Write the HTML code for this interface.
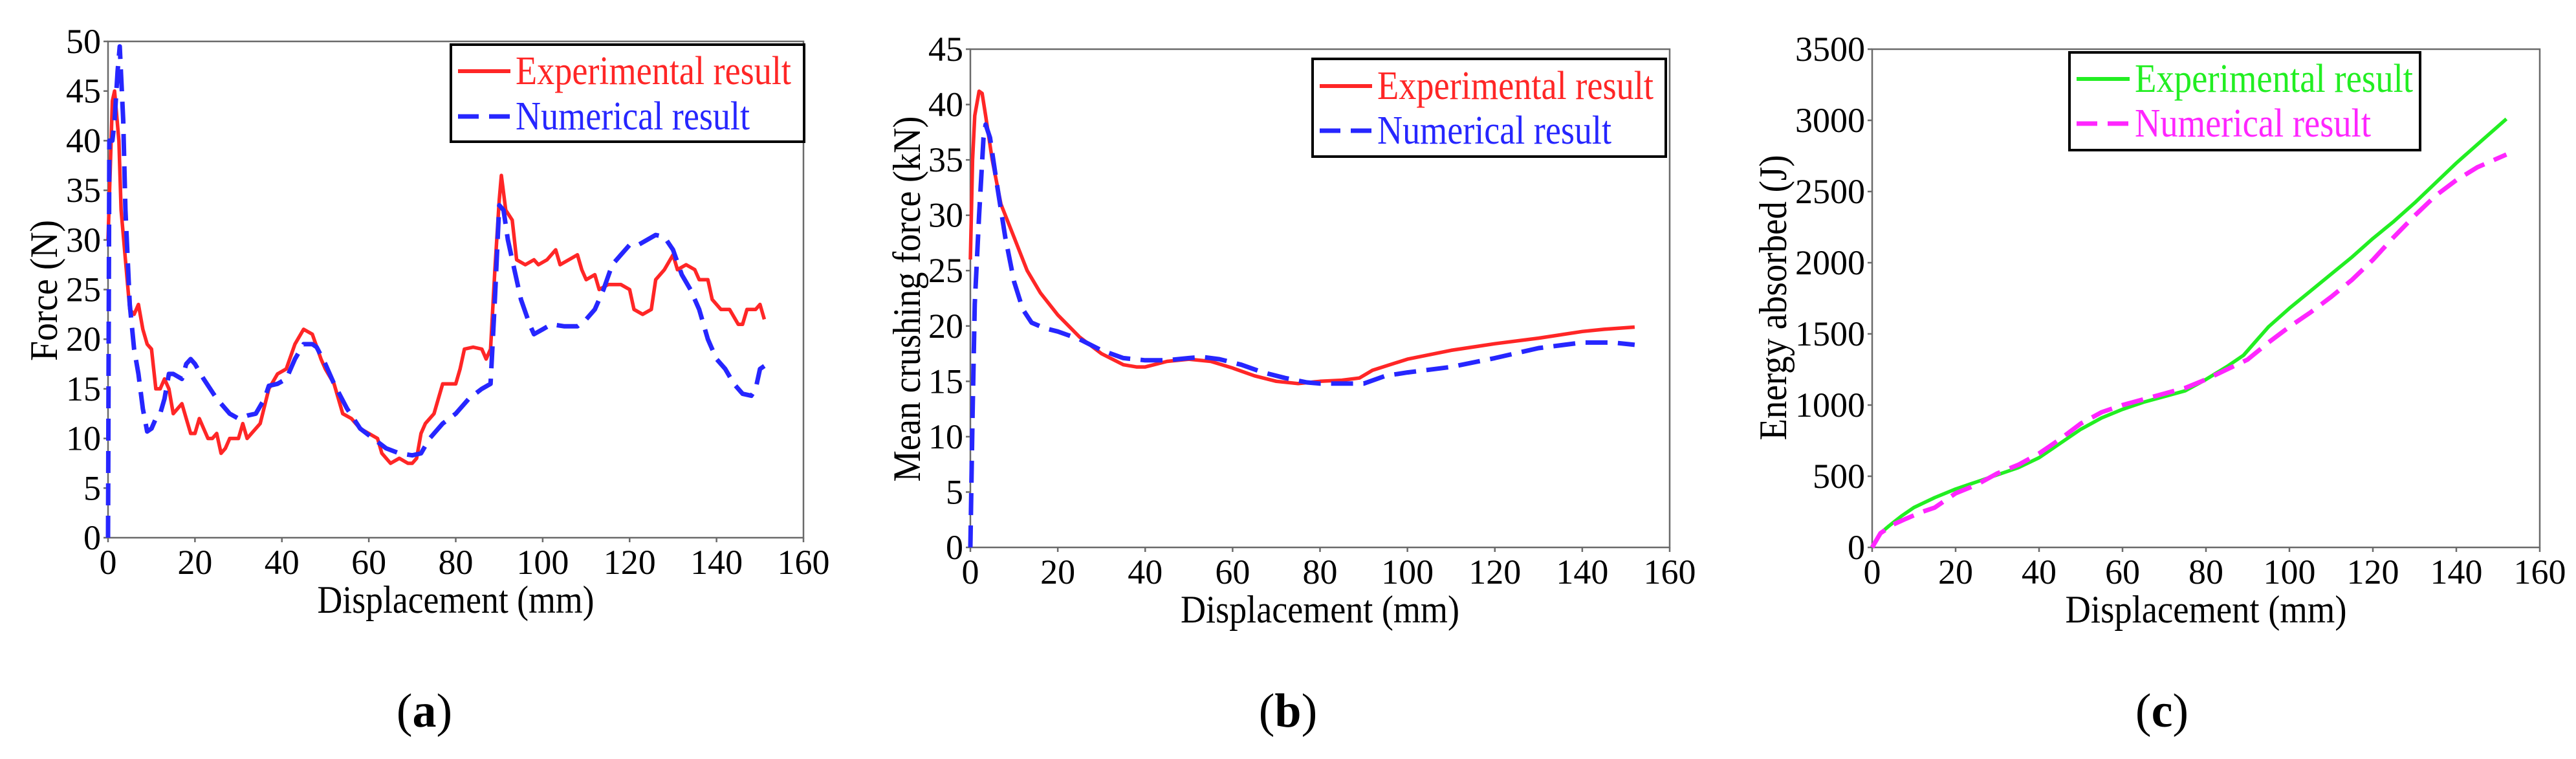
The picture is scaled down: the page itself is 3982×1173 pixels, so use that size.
<!DOCTYPE html>
<html><head><meta charset="utf-8"><style>
html,body{margin:0;padding:0;background:#fff;}
svg, svg text{font-family:"Liberation Serif","Times New Roman","DejaVu Serif",serif;}
</style></head><body>
<svg id="fig" width="3982" height="1168" viewBox="0 0 3982 1168"></svg>
<script>
// ---- data ----
const aExpX=[0,1,1.5,2.5,3,4,5,6,7,8,9,10,11,12,13,14,15,16,17,18,19,20,21,22,23,24,25,26,27,28,30,31,32,33,35,37,39,41,43,45,47,49,50,52,54,56,58,60,62,63,65,67,69,70,71,72,73,75,76,77,79,80,81,82,84,86,87,88,89,90,90.5,91.5,93,94,96,98,99,101,103,104,106,108,109,110,112,113,115,118,120,121,123,125,126,128,130,131,133,135,136,138,139,141,143,145,146,147,149,150,151];
const aExpY=[30,44,45,40,33,28,23,22.5,23.5,21,19.5,19,15,15,16,15,12.5,13,13.5,12,10.5,10.5,12,11,10,10,10.5,8.5,9,10,10,11.5,10,10.5,11.5,15,16.5,17,19.5,21,20.5,18,17,15.5,12.5,12,11,10.5,10,8.5,7.5,8,7.5,7.5,8,10.5,11.5,12.5,14,15.5,15.5,15.5,17,19,19.2,19,18,19,27,34,36.5,33,32,28,27.5,28,27.5,28,29,27.5,28,28.5,27,26,26.5,25,25.5,25.5,25,23,22.5,23,26,27,28.5,27,27.5,27,26,26,24,23,23,21.5,21.5,23,23,23.5,22];
const aNumX=[0,0.3,1,1.5,2.2,2.7,3.5,4,5,6,7,8,9,10,11,12,13,14,15,17,18,19,20,22,25,28,30,32,34,36,37,39,41,43,45,47,48,50,52,55,58,61,64,67,70,72,74,77,80,83,86,88,89,90,91,92,93,95,97,98,100,102,105,108,110,112,114,116,118,120,122,124,126,128,130,132,134,136,138,140,142,144,146,148,149,150,151];
const aNumY=[0,40,40,42,47,49.5,42,33,23.5,19,16.5,13,10.7,11,12,12.5,14,16.5,16.5,16,17.5,18,17.5,16,14,12.5,12,12.3,12.5,14,15.3,15.5,16,18,19.5,19.5,19.2,17.5,15.5,13,11,10,9,8.5,8.3,8.5,10,11.5,12.5,14,15,15.5,24,33.5,33,30,28,24,21.5,20.5,21,21.5,21.3,21.3,22,23,25,27.5,28.5,29.5,29.5,30,30.5,30.3,29,26.5,25,23,20,18,17,15.5,14.5,14.3,15,17,17.3];
const bExpX=[0,0.5,1,2,2.7,3.5,5,7,10,13,16,20,25,30,35,38,40,45,50,55,60,65,70,75,80,85,89,92,100,110,120,130,140,145,152];
const bExpY=[26,35,39,41.2,41,39,35,31,28,25,23,21,19,17.5,16.5,16.3,16.3,16.8,17,16.8,16.2,15.5,15,14.8,15,15.1,15.3,16,17,17.8,18.4,18.9,19.5,19.7,19.9];
const bNumX=[0,0.5,1,2,3,3.5,4.5,6,8,10,12,14,17,20,25,30,35,40,45,50,53,57,62,67,72,77,80,85,90,95,100,110,120,130,140,147,152];
const bNumY=[0,12,22,30,37,38.2,37,33,28,24,21.5,20.3,19.8,19.5,18.8,17.8,17.1,16.9,16.9,17.1,17.2,17,16.5,15.8,15.3,14.9,14.8,14.8,14.8,15.5,15.8,16.3,17.1,18,18.5,18.5,18.3];
const cExpX=[0,2,4,7,10,15,20,25,30,35,40,45,50,55,60,65,70,75,80,85,89,92,95,100,105,110,115,120,125,130,135,140,145,152];
const cExpY=[0,100,150,220,280,350,410,460,510,560,630,730,830,910,970,1020,1060,1100,1180,1270,1350,1450,1550,1680,1800,1920,2040,2170,2290,2420,2560,2700,2830,3010];
const cNumX=[0,2,5,8,12,15,20,25,30,35,40,45,50,55,60,65,70,75,80,85,90,95,100,105,110,115,120,125,130,135,140,145,152];
const cNumY=[0,100,160,200,250,280,380,440,520,580,660,760,870,950,1000,1040,1080,1120,1180,1250,1320,1440,1550,1650,1760,1880,2020,2180,2330,2470,2580,2670,2760];
const xTicks=[0,20,40,60,80,100,120,140,160];
const aYTicks=[0,5,10,15,20,25,30,35,40,45,50];
const bYTicks=[0,5,10,15,20,25,30,35,40,45];
const cYTicks=[0,500,1000,1500,2000,2500,3000,3500];

const NS="http://www.w3.org/2000/svg";
const FF='"Liberation Serif","Times New Roman","DejaVu Serif",serif';
const svg=document.getElementById('fig');
function mk(tag,attrs,parent,text){const e=document.createElementNS(NS,tag);for(const k in attrs)e.setAttribute(k,attrs[k]);if(tag==='text')e.setAttribute('font-family',FF);if(text!==undefined)e.textContent=text;(parent||svg).appendChild(e);return e;}

function panel(p){
  const g=mk('g',{});
  
  
  const sx=v=>p.L+(v-0)/(160)*(p.R-p.L);
  const sy=v=>p.B-v/p.ymax*(p.B-p.T);
  const frame=mk('rect',{x:p.L,y:p.T,width:p.R-p.L,height:p.B-p.T,fill:'none',stroke:'#6a6a6a','stroke-width':2.5},g);
  
  
  xTicks.forEach(t=>{
    const x=sx(t);
    mk('line',{x1:x,x2:x,y1:p.B,y2:p.B+7,stroke:'#6a6a6a','stroke-width':2.5},g);
    const tx=mk('text',{x:x,y:p.B+56,'font-size':54,'text-anchor':'middle',fill:'#000'},g,String(t));
    
    
  });
  p.yt.forEach(t=>{
    const y=sy(t);
    mk('line',{x1:p.L-7,x2:p.L,y1:y,y2:y,stroke:'#6a6a6a','stroke-width':2.5},g);
    const ty=mk('text',{x:p.L-11,y:y+18,'font-size':54,'text-anchor':'end',fill:'#000'},g,String(t));
    
    
  });
  const xt=mk('text',{x:(p.L+p.R)/2,y:p.xtY,'font-size':60,'text-anchor':'middle',textLength:p.xtW,lengthAdjust:'spacingAndGlyphs'},g,'Displacement (mm)');
  
  
  const yt=mk('text',{x:0,y:0,'font-size':60,'text-anchor':'middle',textLength:p.ytW,lengthAdjust:'spacingAndGlyphs',transform:`translate(${p.ytX},${p.ytY}) rotate(-90)`},g,p.ytitle);
  
  
  function series(xs,ys,col,dash,name){
    const d=xs.map((v,i)=>(i?'L':'M')+sx(v).toFixed(1)+','+sy(ys[i]).toFixed(1)).join(' ');
    const a={d:d,fill:'none',stroke:col,'stroke-width':dash?7:5.5,'stroke-linejoin':'round'};
    if(dash)a['stroke-dasharray']='34 16';
    const s=mk('path',a,g);
    
    
  }
  series(p.ex,p.ey,p.c1,false,p.id+'-experimental-line');
  series(p.nx,p.ny,p.c2,true,p.id+'-numerical-line');
  const lg=mk('g',{},g);
  
  
  mk('rect',{x:p.lg[0],y:p.lg[1],width:p.lg[2]-p.lg[0],height:p.lg[3]-p.lg[1],fill:'#fff',stroke:'#000','stroke-width':4},lg);
  mk('line',{x1:p.ll[0],x2:p.ll[1],y1:p.r1,y2:p.r1,stroke:p.c1,'stroke-width':6},lg);
  mk('line',{x1:p.ll[0],x2:p.ll[1],y1:p.r2,y2:p.r2,stroke:p.c2,'stroke-width':7,'stroke-dasharray':'32 16'},lg);
  const e1=mk('text',{x:p.ll[1]+8,y:p.r1+20,'font-size':62,fill:p.c1,textLength:p.tw1,lengthAdjust:'spacingAndGlyphs'},lg,'Experimental result');
  
  
  const e2=mk('text',{x:p.ll[1]+8,y:p.r2+20,'font-size':62,fill:p.c2,textLength:p.tw2,lengthAdjust:'spacingAndGlyphs'},lg,'Numerical result');
  
  
  const cap=mk('text',{x:p.capX,y:1123,'font-size':74,'text-anchor':'middle'},g);
  
  
  mk('tspan',{},cap,'(');
  mk('tspan',{'font-weight':'bold'},cap,p.id);
  mk('tspan',{},cap,')');
}

panel({id:'a',L:167,R:1242,T:64,B:831,ymax:50,yt:aYTicks,ex:aExpX,ey:aExpY,nx:aNumX,ny:aNumY,c1:'#ff2626',c2:'#2626ff',
  xtY:947,xtW:428,ytitle:'Force (N)',ytX:88,ytY:449,ytW:218,lg:[697,69,1243,219],ll:[708,789],r1:110,r2:180,tw1:426,tw2:362,capX:656});
panel({id:'b',L:1500,R:2581,T:76,B:846,ymax:45,yt:bYTicks,ex:bExpX,ey:bExpY,nx:bNumX,ny:bNumY,c1:'#ff2626',c2:'#2626ff',
  xtY:962,xtW:431,ytitle:'Mean crushing force (kN)',ytX:1422,ytY:462,ytW:565,lg:[2029,91,2575,242],ll:[2040,2121],r1:133,r2:202,tw1:427,tw2:362,capX:1991});
panel({id:'c',L:2894,R:3926,T:76,B:846,ymax:3500,yt:cYTicks,ex:cExpX,ey:cExpY,nx:cNumX,ny:cNumY,c1:'#22ee22',c2:'#ff26ff',
  xtY:962,xtW:435,ytitle:'Energy absorbed (J)',ytX:2761,ytY:460,ytW:441,lg:[3199,81,3741,232],ll:[3210,3292],r1:122,r2:191,tw1:430,tw2:365,capX:3342});
</script>
</body></html>
